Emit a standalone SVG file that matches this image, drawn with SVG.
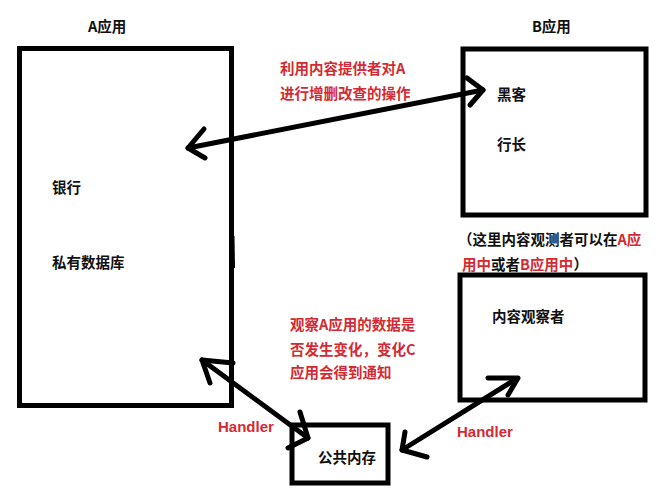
<svg xmlns="http://www.w3.org/2000/svg" width="670" height="495" viewBox="0 0 670 495">
<style>
.box{fill:none;stroke:#000;stroke-width:5}
.ln{fill:none;stroke:#000;stroke-width:5;stroke-linecap:round;stroke-linejoin:round}
.t{font-family:"Noto Sans CJK SC","Liberation Sans",sans-serif;font-size:14.5px;font-weight:bold;fill:#111}
.r{fill:#d42a33}
.h{font-family:"Liberation Sans","Noto Sans CJK SC",sans-serif;font-size:15px;font-weight:bold;fill:#d42a33}
</style>
<rect width="670" height="495" fill="#fff"/>
<g id="appA">
<rect class="box" x="19.5" y="48.5" width="212" height="357"/>
<path d="M233,236 L233.5,268" stroke="#000" stroke-width="3" fill="none"/>
<text class="t" x="88" y="32">A应用</text>
<text class="t" x="52" y="193">银行</text>
<text class="t" x="52" y="268">私有数据库</text>
</g>
<g id="appB">
<rect class="box" x="463" y="49" width="183" height="166"/>
<text class="t" x="532" y="32">B应用</text>
<text class="t" x="497" y="100">黑客</text>
<text class="t" x="497" y="150">行长</text>
</g>
<g id="observer">
<rect class="box" x="460" y="275" width="185" height="125"/>
<text class="t" x="492" y="322">内容观察者</text>
</g>
<g id="memory">
<rect class="box" x="292" y="425" width="96" height="58"/>
<text class="t" x="318" y="463">公共内存</text>
</g>
<g id="notes">
<text class="t r" x="280" y="74">利用内容提供者对A</text>
<text class="t r" x="280" y="99">进行增删改查的操作</text>
<text class="t r" x="290" y="330">观察A应用的数据是</text>
<text class="t r" x="290" y="355">否发生变化，变化C</text>
<text class="t r" x="290" y="378">应用会得到通知</text>
<text class="t" x="458" y="245">（这里内容观测者可以在<tspan class="r">A应</tspan></text>
<text class="t" x="462" y="270"><tspan class="r">用中</tspan>或者<tspan class="r">B应用中</tspan>）</text>
<text class="h" x="218" y="432">Handler</text>
<text class="h" x="457" y="437">Handler</text>
</g>
<g id="connectors">
<path class="ln" d="M188,148 L483,90"/>
<path class="ln" d="M204,129 L188,148 L205,158"/>
<path class="ln" d="M467,78 L483,90 L470,105"/>
<path class="ln" d="M202,360 L308,438"/>
<path class="ln" d="M233,363 L202,360 L210,383"/>
<path class="ln" d="M300,412 L308,438 L288,448"/>
<path class="ln" d="M402,450 L516,379"/>
<path class="ln" d="M405,432 L402,450 L427,457"/>
<path class="ln" d="M488,378 L518,378 L508,395"/>
</g>
</svg>
